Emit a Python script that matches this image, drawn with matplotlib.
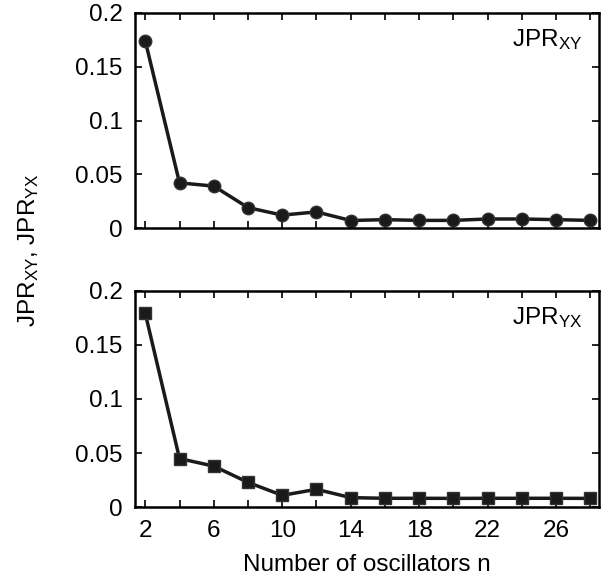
import matplotlib
matplotlib.use("Agg")
import matplotlib.pyplot as plt

n = [2, 4, 6, 8, 10, 12, 14, 16, 18, 20, 22, 24, 26, 28]
jpr_xy = [0.174, 0.042, 0.039, 0.019, 0.012, 0.015, 0.007, 0.0078, 0.0071, 0.0071,
          0.0084, 0.0084, 0.0078, 0.0071]
jpr_yx = [0.179, 0.045, 0.038, 0.023, 0.011, 0.0166, 0.0089, 0.0083, 0.0083, 0.0082,
          0.0083, 0.0083, 0.0083, 0.0082]

xticks = [2, 6, 10, 14, 18, 22, 26]
yticks = [0, 0.05, 0.1, 0.15, 0.2]
yticklabels = ["0", "0.05", "0.1", "0.15", "0.2"]

plt.rcParams['font.family'] = ['Liberation Sans', 'DejaVu Sans']
plt.rcParams['mathtext.fontset'] = 'custom'
plt.rcParams['mathtext.rm'] = 'Liberation Sans'
plt.rcParams['mathtext.it'] = 'Liberation Sans'

fs = 17.5
fig = plt.figure(figsize=(6.12, 5.82), dpi=100)
ax1 = fig.add_axes([0.2206, 0.6082, 0.758, 0.3695])
ax2 = fig.add_axes([0.2206, 0.1284, 0.758, 0.3721])

col = '#1a1a1a'
ax1.plot(n, jpr_xy, '-o', color=col, lw=2.5, ms=9, mfc=col, mec='#333333', mew=1)
ax2.plot(n, jpr_yx, '-s', color=col, lw=2.5, ms=8, mfc=col, mec='#333333', mew=1)

for ax, lab in [(ax1, r'JPR$_{\mathrm{XY}}$'), (ax2, r'JPR$_{\mathrm{YX}}$')]:
    ax.set_xlim(1.4, 28.5)
    ax.set_ylim(0, 0.2)
    ax.set_xticks(xticks)
    ax.set_xticks(range(4, 29, 4), minor=True)
    ax.set_yticks(yticks)
    ax.set_yticklabels(yticklabels)
    ax.tick_params(which='both', direction='in', top=True, right=True,
                   length=5, width=1.2, labelsize=fs, pad=9)
    for s in ax.spines.values():
        s.set_linewidth(1.8)
    ax.text(0.965, 0.935, lab, transform=ax.transAxes, ha='right', va='top',
            fontsize=fs)

ax1.tick_params(labelbottom=False)
ax2.set_xlabel('Number of oscillators n', fontsize=fs, labelpad=9)
fig.text(0.046, 0.57, r'JPR$_{\mathrm{XY}}$, JPR$_{\mathrm{YX}}$', rotation=90,
         ha='center', va='center', fontsize=fs)

fig.savefig('out.png', dpi=100)
